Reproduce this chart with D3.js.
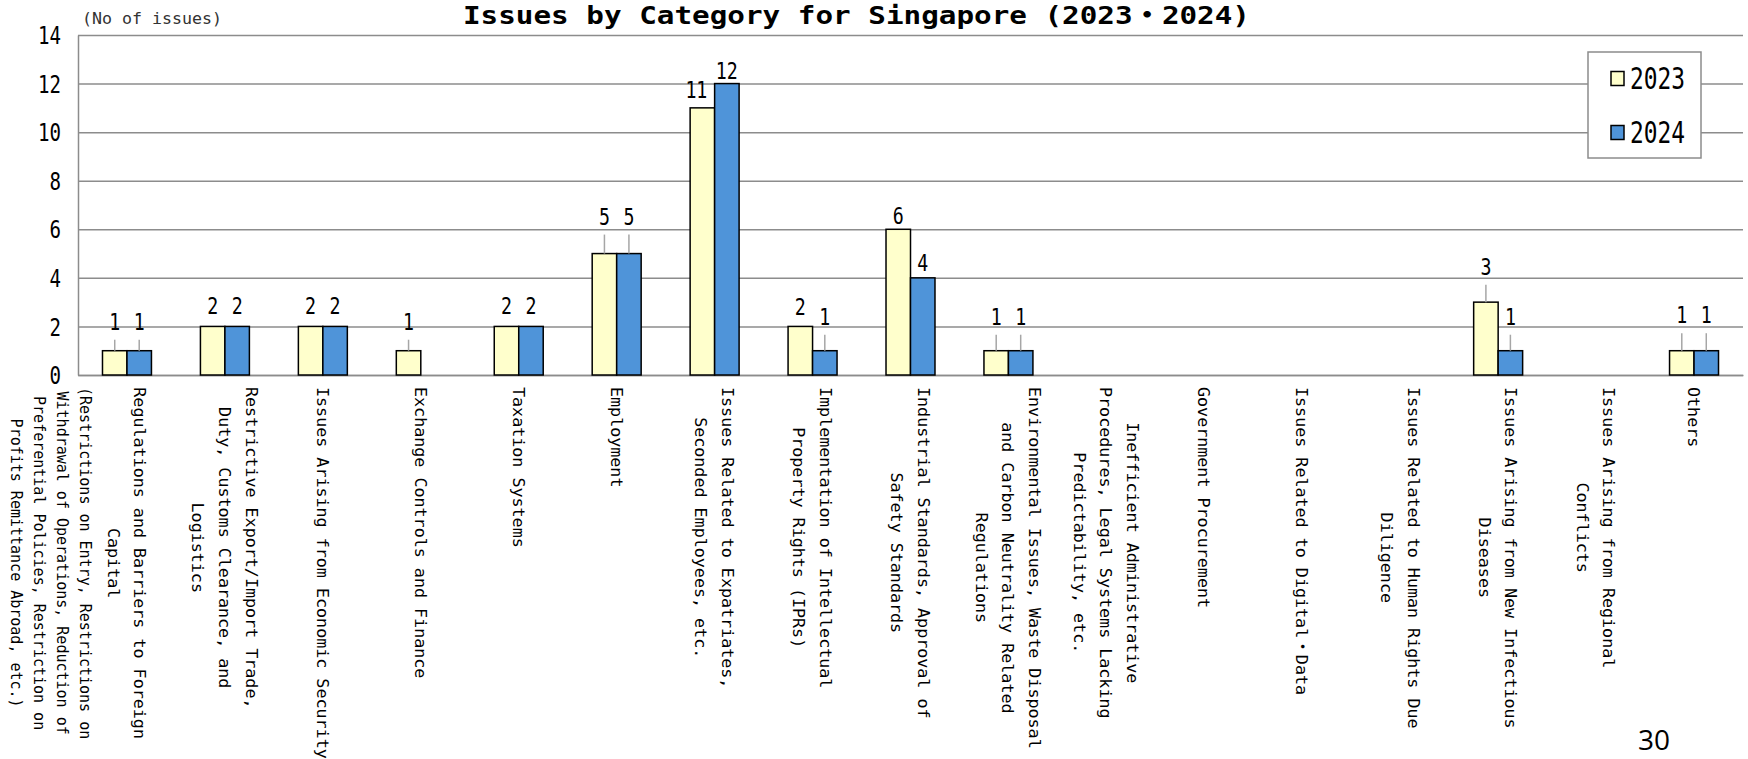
<!DOCTYPE html>
<html>
<head>
<meta charset="utf-8">
<script src="https://cdn.jsdelivr.net/npm/d3@7"></script>
<style>
  html, body { margin: 0; padding: 0; background: #ffffff; }
  svg { display: block; }
</style>
</head>
<body>
<svg id="chart" width="1748" height="759"></svg>
<script>
// ---- data ----
const categories = [
  "Regulations and Barriers to Foreign\nCapital",
  "Restrictive Export/Import Trade,\nDuty, Customs Clearance, and\nLogistics",
  "Issues Arising from Economic Security",
  "Exchange Controls and Finance",
  "Taxation Systems",
  "Employment",
  "Issues Related to Expatriates,\nSeconded Employees, etc.",
  "Implementation of Intellectual\nProperty Rights (IPRs)",
  "Industrial Standards, Approval of\nSafety Standards",
  "Environmental Issues, Waste Disposal\nand Carbon Neutrality Related\nRegulations",
  "Inefficient Administrative\nProcedures, Legal Systems Lacking\nPredictability, etc.",
  "Government Procurement",
  "Issues Related to Digital・Data",
  "Issues Related to Human Rights Due\nDiligence",
  "Issues Arising from New Infectious\nDiseases",
  "Issues Arising from Regional\nConflicts",
  "Others"
];
const categoryNotes = [
  "(Restrictions on Entry, Restrictions on\nWithdrawal of Operations, Reduction of\nPreferential Policies, Restriction on\nProfits Remittance Abroad, etc.)",
  "", "", "", "", "", "", "", "", "", "", "", "", "", "", "", ""
];
const seriesNames = ["2023", "2024"];
const values2023 = [1, 2, 2, 1, 2, 5, 11, 2, 6, 1, null, null, null, null, 3, null, 1];
const values2024 = [1, 2, 2, null, 2, 5, 12, 1, 4, 1, null, null, null, null, 1, null, 1];
const yTicks = [0, 2, 4, 6, 8, 10, 12, 14];
const titleText = "Issues by Category for Singapore (2023・2024)";
const unitText = "(No of issues)";
const pageNumber = "30";

// ---- label placement (pixels the value label sits above its bar top) ----
const labelLift = [
  [29, 21, 21, 29, 21, 37, 18, 20, 13.5, 34, 0, 0, 0, 0, 35.5, 0, 35.5],
  [29, 21, 21, 0, 21, 37, 13, 34, 15.5, 34, 0, 0, 0, 0, 34, 0, 35.5]
];
const labelNudgeX = [
  [0, 0, 0, 0, 0, 0, -6, 0, 0, 0, 0, 0, 0, 0, 0, 0, 0],
  [0, 0, 0, 0, 0, 0, 0, 0, 0, 0, 0, 0, 0, 0, 0, 0, 0]
];

// ---- styles ----
const colors = ["#FFFFCC", "#4F94D9"];
const gridColor = "#8c8c8c";
const mono = "'DejaVu Sans Mono', 'Noto Sans CJK JP', monospace";

const svg = d3.select("#chart");
const plot = { left: 78, right: 1743, top: 35, bottom: 375 };

const x = d3.scaleBand()
  .domain(d3.range(categories.length))
  .range([plot.left, plot.right])
  .paddingInner(0.5)
  .paddingOuter(0.25);
const xSub = d3.scaleBand()
  .domain(d3.range(seriesNames.length))
  .range([0, x.bandwidth()]);
const y = d3.scaleLinear().domain([0, 14]).range([plot.bottom, plot.top]);

// squeeze digits into narrow cells
function narrow(sel, cell) {
  sel.each(function () {
    const t = d3.select(this);
    const n = String(t.text()).length;
    t.attr("textLength", n * cell).attr("lengthAdjust", "spacingAndGlyphs");
  });
}

// y axis with gridlines
const yAxis = svg.append("g")
  .attr("transform", `translate(${plot.left},0)`)
  .call(d3.axisLeft(y)
    .tickValues(yTicks)
    .tickSizeInner(-(plot.right - plot.left))
    .tickSizeOuter(0)
    .tickPadding(17)
    .tickFormat(d3.format("d")));
yAxis.select(".domain").attr("stroke", gridColor).attr("stroke-width", 1.5);
yAxis.selectAll(".tick line").attr("stroke", gridColor).attr("stroke-width", 1.5);
yAxis.selectAll(".tick text")
  .attr("font-family", mono)
  .attr("font-size", 24)
  .attr("fill", "#000")
  .attr("dy", "0.36em")
  .call(narrow, 11.5);

// x axis line
const xAxis = svg.append("g")
  .attr("transform", `translate(0,${plot.bottom})`)
  .call(d3.axisBottom(x).tickSize(0).tickFormat(""));
xAxis.select(".domain").attr("stroke", gridColor).attr("stroke-width", 1.5);

// bars
const series = [values2023, values2024];
const barData = [];
series.forEach((vals, s) => vals.forEach((v, i) => {
  if (v != null) barData.push({ s, i, v });
}));

svg.append("g").selectAll("rect")
  .data(barData)
  .join("rect")
  .attr("x", d => x(d.i) + xSub(d.s))
  .attr("y", d => y(d.v))
  .attr("width", xSub.bandwidth())
  .attr("height", d => y(0) - y(d.v))
  .attr("fill", d => colors[d.s])
  .attr("stroke", "#000")
  .attr("stroke-width", 1.5);

// value labels with leader lines
const lbl = svg.append("g");
barData.forEach(d => {
  const cx = x(d.i) + xSub(d.s) + xSub.bandwidth() / 2;
  const top = y(d.v);
  const lift = labelLift[d.s][d.i];
  const ly = top - lift;
  if (lift > 25) {
    lbl.append("line")
      .attr("x1", cx).attr("x2", cx)
      .attr("y1", ly + 18).attr("y2", top)
      .attr("stroke", "#a6a6a6").attr("stroke-width", 1.5);
  }
  lbl.append("text")
    .attr("x", cx + labelNudgeX[d.s][d.i])
    .attr("y", ly)
    .attr("dy", "0.36em")
    .attr("text-anchor", "middle")
    .attr("font-family", mono)
    .attr("font-size", 23)
    .attr("fill", "#000")
    .text(d.v)
    .call(narrow, 11);
});

// category labels, rotated to read downward
const catTop = 387;
const lineStep = 26.7;
const noteStep = 23;
categories.forEach((label, i) => {
  const cx = x(i) + x.bandwidth() / 2;
  const lines = label.split("\n").map(t => ({ t, size: 16.7 }));
  const notes = categoryNotes[i] ? categoryNotes[i].split("\n").map(t => ({ t, size: 15 })) : [];
  const offsets = lines.map((_, k) => (k - (lines.length - 1) / 2) * lineStep);
  const last = offsets[offsets.length - 1];
  notes.forEach((_, k) => offsets.push(last + 28 + k * noteStep));
  const all = lines.concat(notes);
  const g = svg.append("g");
  const texts = all.map((ln, k) =>
    g.append("text")
      .attr("x", 0)
      .attr("y", offsets[k])
      .attr("dy", "0.36em")
      .attr("text-anchor", "middle")
      .attr("font-family", mono)
      .attr("font-size", ln.size)
      .attr("fill", "#000")
      .text(ln.t));
  const maxLen = d3.max(texts, t => t.node().getComputedTextLength());
  g.attr("transform", `translate(${cx},${catTop + maxLen / 2}) rotate(90)`);
});

// title and unit
svg.append("text")
  .attr("x", 463)
  .attr("y", 24)
  .attr("font-family", mono)
  .attr("font-weight", "bold")
  .attr("font-size", 25)
  .attr("fill", "#000")
  .attr("textLength", 787)
  .attr("lengthAdjust", "spacingAndGlyphs")
  .text(titleText);

svg.append("text")
  .attr("x", 82)
  .attr("y", 18)
  .attr("dy", "0.36em")
  .attr("font-family", mono)
  .attr("font-size", 16)
  .attr("fill", "#333")
  .attr("textLength", 140)
  .attr("lengthAdjust", "spacingAndGlyphs")
  .text(unitText);

// legend
const legend = svg.append("g");
legend.append("rect")
  .attr("x", 1588).attr("y", 52)
  .attr("width", 113).attr("height", 106)
  .attr("fill", "#fff")
  .attr("stroke", gridColor).attr("stroke-width", 1.5);
seriesNames.forEach((name, s) => {
  const cy = 78.5 + s * 54;
  legend.append("rect")
    .attr("x", 1611).attr("y", cy - 7)
    .attr("width", 13).attr("height", 14)
    .attr("fill", colors[s])
    .attr("stroke", "#000").attr("stroke-width", 1.5);
  legend.append("text")
    .attr("x", 1630).attr("y", cy)
    .attr("dy", "0.36em")
    .attr("font-family", mono)
    .attr("font-size", 30)
    .attr("fill", "#000")
    .attr("textLength", 55)
    .attr("lengthAdjust", "spacingAndGlyphs")
    .text(name);
});

// page number
svg.append("text")
  .attr("x", 1638).attr("y", 750)
  .attr("font-family", "'Open Sans', sans-serif")
  .attr("font-size", 28)
  .attr("fill", "#000")
  .text(pageNumber);
</script>
</body>
</html>
